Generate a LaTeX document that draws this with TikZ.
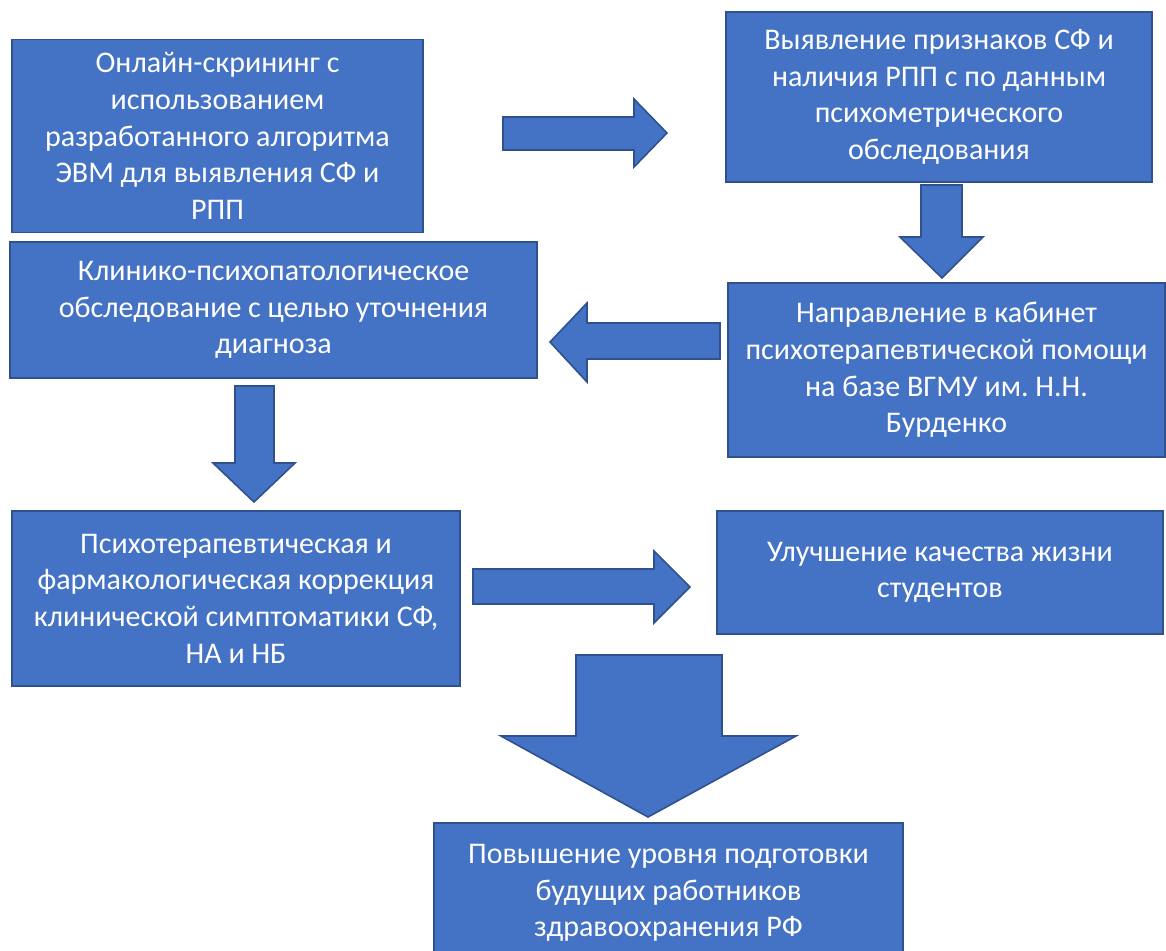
\documentclass[tikz,border=0pt]{standalone}
\usepackage{fontspec}
\setmainfont{Carlito}
\frenchspacing
\definecolor{boxblue}{HTML}{4472C4}
\definecolor{edgeblue}{HTML}{2F528F}
\tikzset{
  stage/.style={draw=edgeblue, fill=boxblue, line width=0.8pt, text=white,
    align=center, inner sep=0pt, font=\fontsize{15}{18.3}\selectfont},
  blockarrow/.style={draw=edgeblue, fill=boxblue, line width=0.8pt, line join=miter}
}

\begin{document}
\begin{tikzpicture}[x=0.5pt,y=-0.5pt]
  \useasboundingbox (0,0) rectangle (1166,950);

  % stages
  \node[stage, minimum width=205.5pt, minimum height=96.5pt] (screen) at (217.5,136)
    {Онлайн-скрининг с\\использованием\\разработанного алгоритма\\ЭВМ для выявления СФ и\\РПП};
  \node[stage, minimum width=213pt, minimum height=85pt] (signs) at (939,97)
    {Выявление признаков СФ и\\наличия РПП с по данным\\психометрического\\обследования};
  \node[stage, minimum width=218.5pt, minimum height=87pt] (refer) at (946.5,370)
    {Направление в кабинет\\психотерапевтической помощи\\на базе ВГМУ им. Н.Н.\\Бурденко};
  \node[stage, minimum width=263.5pt, minimum height=68pt] (clinic) at (273.5,310)
    {Клинико-психопатологическое\\обследование с целью уточнения\\диагноза};
  \node[stage, minimum width=224pt, minimum height=87.5pt] (therapy) at (236,598.5)
    {Психотерапевтическая и\\фармакологическая коррекция\\клинической симптоматики СФ,\\НА и НБ};
  \node[stage, minimum width=223pt, minimum height=61.5pt] (life) at (940,572.5)
    {Улучшение качества жизни\\студентов};
  \node[stage, minimum width=234.5pt, minimum height=70pt] (train) at (668.5,893)
    {Повышение уровня подготовки\\будущих работников\\здравоохранения РФ};

  % block arrows
  \draw[blockarrow] (503,117) -- (634,117) -- (634,99) -- (667,133) -- (634,167) -- (634,150) -- (503,150) -- cycle;
  \draw[blockarrow] (921,185) -- (962,185) -- (962,237) -- (983,237) -- (942,278) -- (900,237) -- (921,237) -- cycle;
  \draw[blockarrow] (720,323) -- (587,323) -- (587,303) -- (550,342) -- (587,382) -- (587,359) -- (720,359) -- cycle;
  \draw[blockarrow] (235,386) -- (274,386) -- (274,463) -- (295,463) -- (254,502) -- (213,463) -- (235,463) -- cycle;
  \draw[blockarrow] (473,569) -- (654,569) -- (654,551) -- (690,587) -- (654,623) -- (654,604) -- (473,604) -- cycle;
  \draw[blockarrow] (576,655) -- (722,655) -- (722,736) -- (796,736) -- (648,817) -- (501,736) -- (576,736) -- cycle;
\end{tikzpicture}
\end{document}
